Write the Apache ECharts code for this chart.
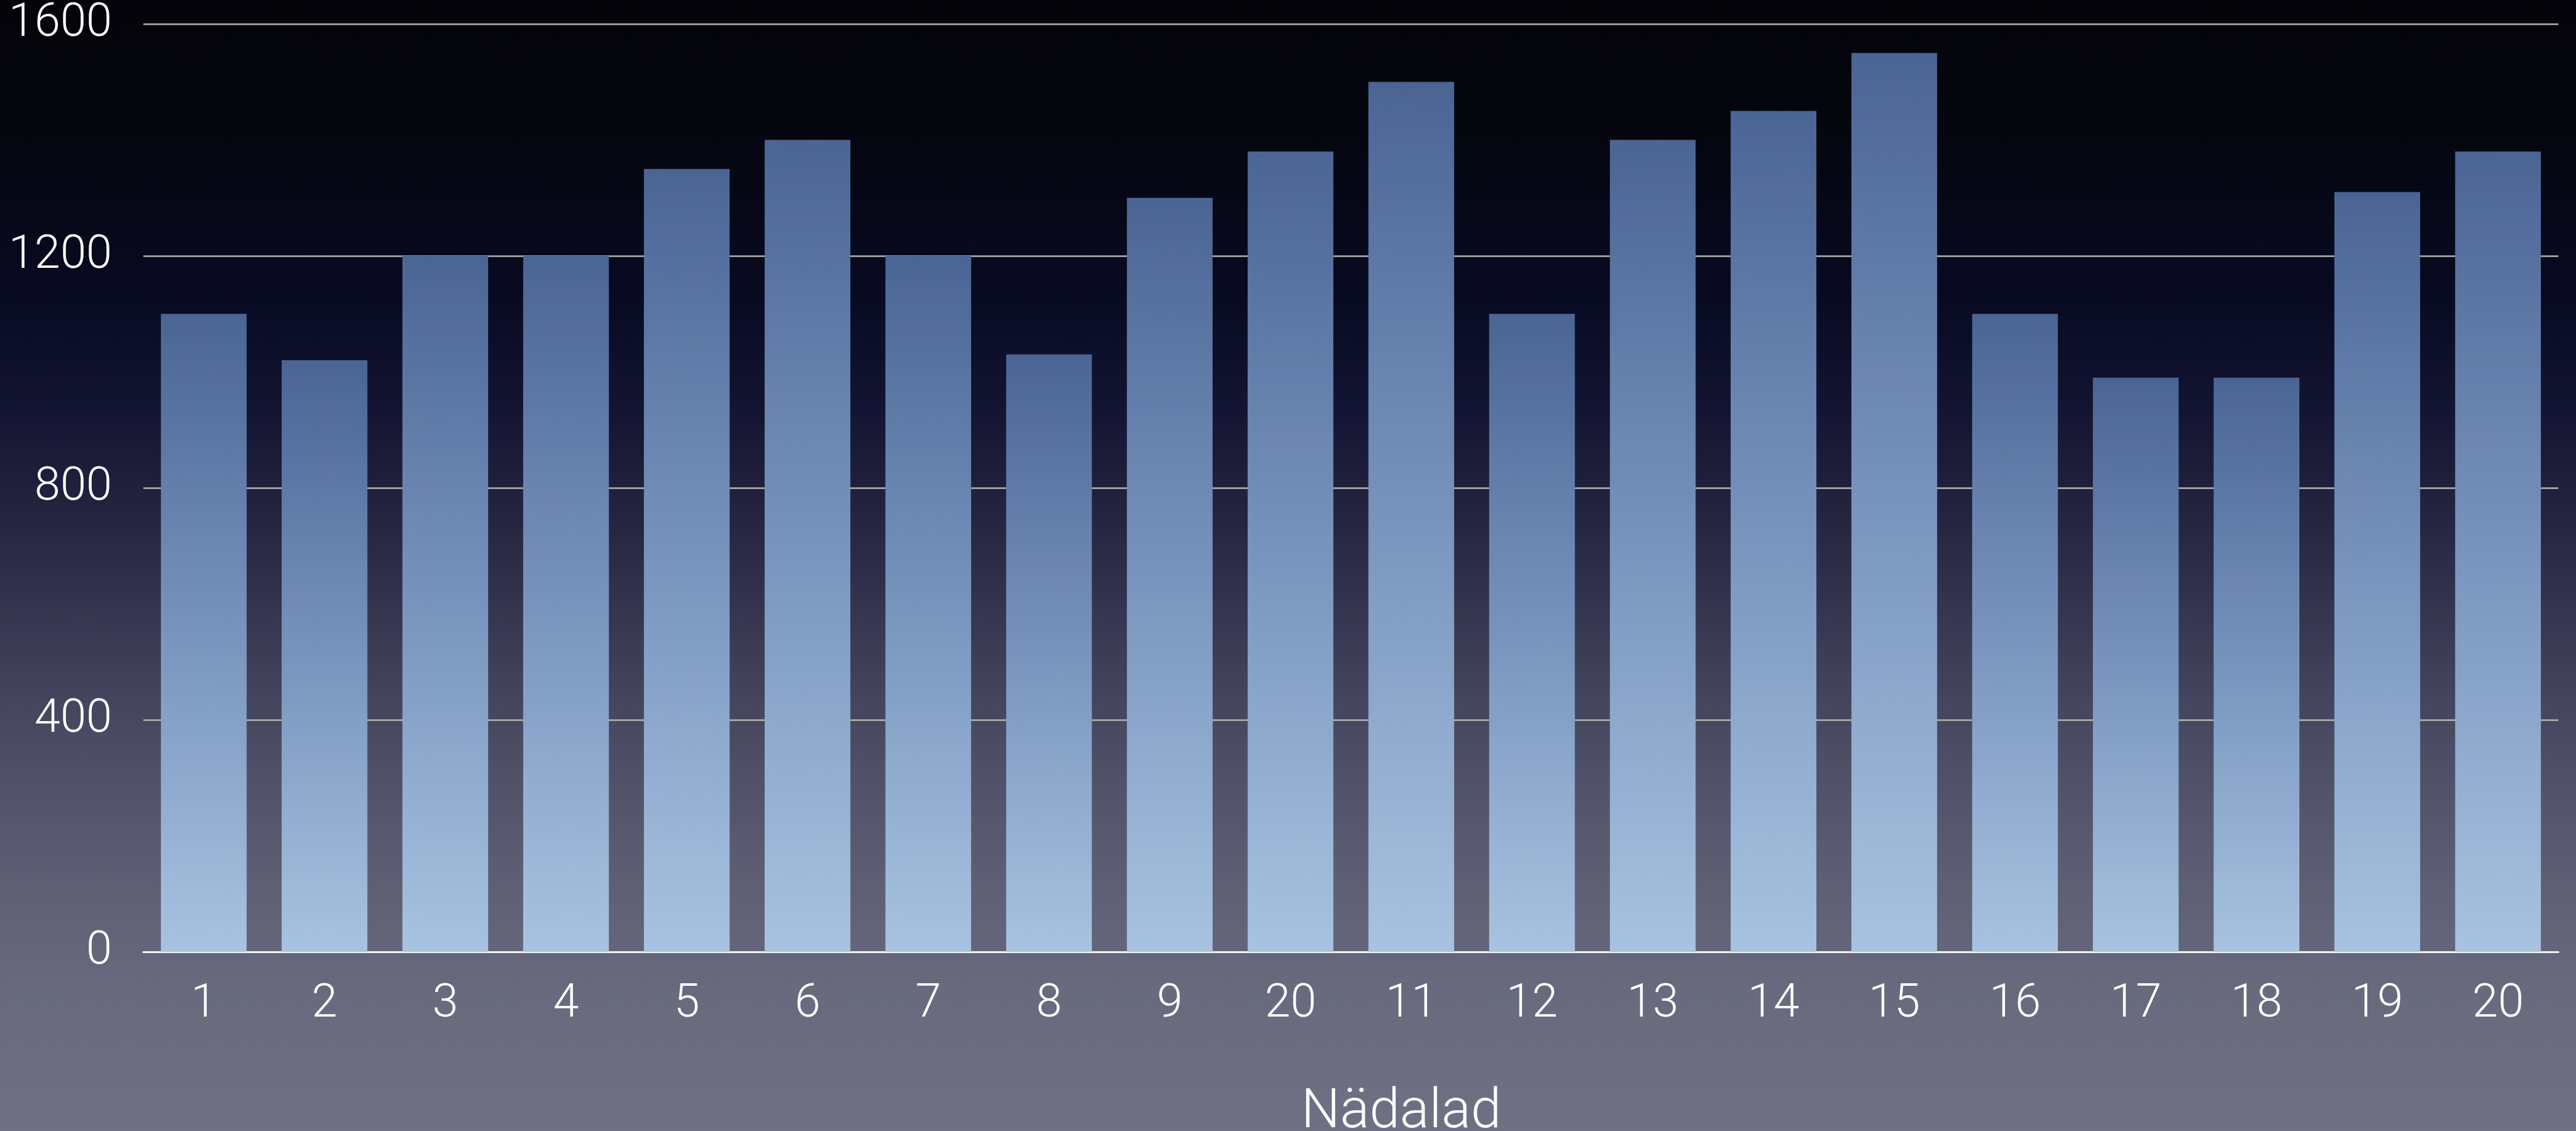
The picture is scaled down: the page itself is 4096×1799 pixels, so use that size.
<!DOCTYPE html>
<html><head><meta charset="utf-8">
<script src="https://cdn.jsdelivr.net/npm/echarts@6/dist/echarts.min.js"></script>
<style>
html,body{margin:0;padding:0;width:4096px;height:1799px;overflow:hidden;}
#c{width:4096px;height:1799px;background:linear-gradient(to bottom,#04040a 0%,#05060f 12%,#080a22 26%,#131432 36%,#252541 46%,#3b3b55 57%,#4f5068 68%,#5e5f74 78%,#686a7e 88%,#6f7084 100%);}
</style>
</head><body><div id="c"></div>
<script>
const categories = ['1','2','3','4','5','6','7','8','9','20','11','12','13','14','15','16','17','18','19','20'];
const values = [1100,1020,1200,1200,1350,1400,1200,1030,1300,1380,1500,1100,1400,1450,1550,1100,990,990,1310,1380];
const yMin = 0, yMax = 1600, yStep = 400;
const axisTitle = 'Nädalad';

const FONT = "'Helvetica Neue', Roboto, 'Open Sans', sans-serif";
const chart = echarts.init(document.getElementById('c'), null, {renderer:'canvas'});
chart.setOption({
  backgroundColor: 'transparent',
  animation: false,
  grid: {left: 228, right: 28, top: 38, bottom: 285, containLabel: false, outerBoundsMode: 'none'},
  xAxis: {
    type: 'category',
    data: categories,
    axisLine: {show: true, lineStyle: {color: '#f2f2f2', width: 3}},
    axisTick: {show: false},
    axisLabel: {interval: 0, color: '#ffffff', fontSize: 74, fontFamily: FONT, fontWeight: 300, margin: 47},
    splitLine: {show: false},
    name: axisTitle,
    nameLocation: 'middle',
    nameGap: 214,
    nameTextStyle: {color: '#ffffff', fontSize: 87, fontFamily: FONT, fontWeight: 300, padding: [0,0,0,160]}
  },
  yAxis: {
    type: 'value',
    min: yMin, max: yMax, interval: yStep,
    axisLine: {show: false},
    axisTick: {show: false},
    axisLabel: {color: '#ffffff', fontSize: 74, fontFamily: FONT, fontWeight: 300, margin: 50,
      padding: [10, 0, 0, 0],
      formatter: function (v) { return String(v); }},
    splitLine: {show: true, lineStyle: {color: '#b2b2b2', width: 2.5}}
  },
  series: [{
    type: 'bar',
    data: values,
    barCategoryGap: '29%',
    itemStyle: {
      color: new echarts.graphic.LinearGradient(0, 0, 0, 1, [
        {offset: 0, color: '#4a6494'},
        {offset: 0.5, color: '#7894bd'},
        {offset: 1, color: '#a8c3e0'}
      ])
    }
  }]
});
</script>
</body></html>
